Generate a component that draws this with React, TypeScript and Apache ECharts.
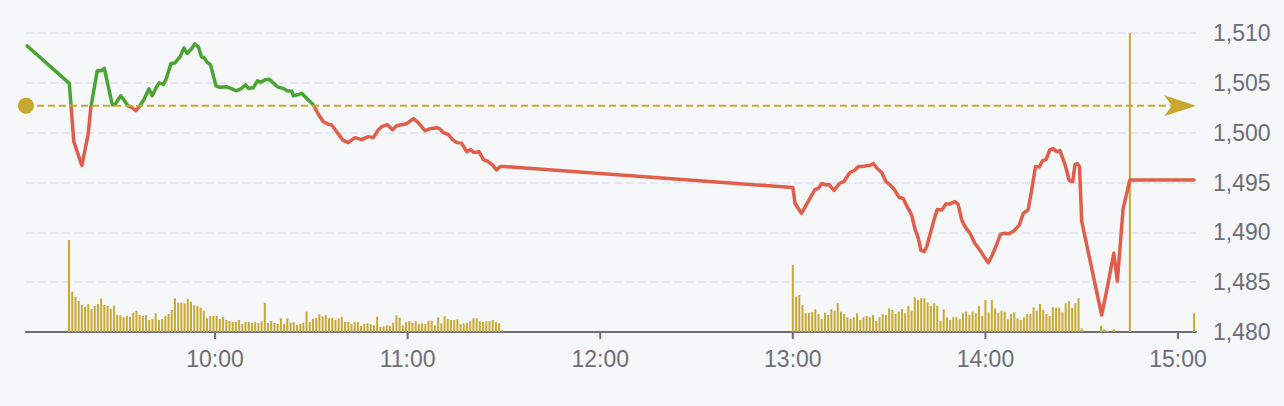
import React, { useEffect, useRef } from 'react';
import * as echarts from 'echarts';

// All times are minutes after 9:00
const DAY_START = 540; // 9:00 in minutes since midnight
const AXIS_MIN = 541.1;
const AXIS_MAX = 905.6;
const REF_PRICE = 1502.7;
const MARKER_MINUTE = 345; // 14:45

const hourTicks = [600, 660, 720, 780, 840, 900];
const hourLabels = ['10:00', '11:00', '12:00', '13:00', '14:00', '15:00'];
const priceTicks = [1480, 1485, 1490, 1495, 1500, 1505, 1510];

const priceMinutes = [
  1.5, 14.6, 16.0, 18.5, 20.5, 21.3, 23.3, 24.5, 25.5, 28.0,
  28.8, 30.6, 31.6, 32.8, 34.0, 35.3, 36.6, 37.9, 39.4, 40.4,
  41.8, 42.6, 43.9, 44.7, 46.3, 47.5, 49.1, 50.3, 51.3, 52.6,
  53.7, 54.8, 55.8, 56.5, 57.6, 58.6, 59.4, 60.3, 61.5, 63.6,
  64.9, 66.7, 68.3, 69.5, 70.4, 71.9, 73.2, 74.3, 75.6, 76.9,
  78.1, 79.4, 81.1, 82.5, 83.9, 84.4, 85.7, 87.0, 88.5, 90.6,
  92.2, 93.7, 95.3, 96.3, 97.9, 99.8, 101.5, 103.6, 105.7, 107.7,
  109.3, 110.9, 111.9, 113.7, 115.3, 116.6, 118.1, 119.7, 121.8, 123.3,
  125.4, 127.0, 129.0, 130.1, 131.1, 132.7, 134.0, 135.3, 136.8, 138.4,
  139.6, 140.7, 142.2, 143.6, 145.1, 146.5, 147.7, 148.8, 150.0,
  240.0, 240.7, 242.7, 244.8, 246.9, 247.9, 249.0, 250.5, 251.3, 252.8,
  254.5, 255.9, 257.8, 259.4, 260.4, 262.0, 263.0, 264.0, 265.1, 266.3,
  267.7, 269.0, 270.3, 271.6, 273.1, 274.4, 275.5, 277.0, 278.0, 279.1,
  279.9, 280.9, 281.7, 283.0, 284.3, 285.0, 286.4, 287.7, 289.0, 290.5,
  291.5, 292.6, 293.6, 295.2, 296.7, 298.3, 299.5, 300.9, 302.1, 303.5,
  304.7, 306.1, 307.3, 308.7, 310.5, 311.8, 313.3, 314.4, 315.6, 316.8,
  317.8, 318.9, 320.1, 321.1, 322.2, 323.2, 324.8, 326.1, 327.2, 327.9,
  328.6, 329.3, 330.0, 336.2, 337.8, 340.0, 341.1, 342.9, 345.0, 365.0,
];

const prices = [
  1508.7, 1504.95, 1499.1, 1496.7, 1499.9, 1502.55, 1506.2, 1506.2, 1506.45, 1502.8,
  1502.8, 1503.7, 1503.3, 1502.7, 1502.55, 1502.2, 1502.7, 1503.35, 1504.4, 1503.7,
  1504.6, 1505.0, 1504.85, 1505.35, 1506.95, 1507.0, 1507.6, 1508.5, 1507.95, 1508.4,
  1508.9, 1508.6, 1507.6, 1507.55, 1507.05, 1506.8, 1505.8, 1504.7, 1504.55, 1504.6,
  1504.45, 1504.2, 1504.45, 1504.8, 1504.45, 1504.5, 1505.2, 1505.05, 1505.3, 1505.35,
  1505.0, 1504.6, 1504.45, 1504.2, 1504.15, 1503.7, 1503.8, 1503.95, 1503.45, 1502.8,
  1501.85, 1501.1, 1500.85, 1500.8, 1500.1, 1499.25, 1499.0, 1499.5, 1499.3, 1499.6,
  1499.5, 1500.3, 1500.6, 1500.8, 1500.3, 1500.7, 1500.8, 1500.9, 1501.4, 1501.0,
  1500.2, 1500.4, 1500.5, 1500.35, 1500.0, 1499.8, 1499.3, 1499.0, 1498.95, 1498.1,
  1498.3, 1498.0, 1498.1, 1497.3, 1497.1, 1496.75, 1496.25, 1496.6, 1496.6,
  1494.5, 1492.9, 1491.9, 1493.1, 1494.3, 1494.4, 1494.9, 1494.75, 1494.8, 1494.2,
  1494.9, 1495.1, 1496.0, 1496.25, 1496.6, 1496.6, 1496.7, 1496.7, 1496.9, 1496.4,
  1496.0, 1495.1, 1494.75, 1494.3, 1493.5, 1493.4, 1492.65, 1491.75, 1490.4, 1489.4,
  1488.2, 1488.05, 1488.55, 1490.1, 1491.6, 1492.3, 1492.25, 1492.85, 1492.85, 1493.1,
  1492.8, 1491.25, 1490.6, 1489.9, 1488.9, 1488.2, 1487.6, 1486.95, 1487.7, 1488.8,
  1489.8, 1489.9, 1489.85, 1490.1, 1490.7, 1491.9, 1492.25, 1494.25, 1496.6, 1496.55,
  1497.2, 1497.3, 1498.3, 1498.4, 1498.1, 1498.2, 1496.8, 1495.2, 1495.1, 1496.8,
  1496.9, 1496.6, 1491.1, 1481.7, 1484.2, 1487.9, 1485.1, 1492.4, 1495.25, 1495.25,
];

// per-minute volume (relative units)
const morningVolumeStart = 14.5;
const morningVolumes = [
  92, 40.3, 35.3, 31, 27, 25.3, 28, 23, 26, 28,
  33.7, 27, 26, 23, 26.3, 17.3, 16.7, 14.7, 16, 15.3,
  19.3, 21.3, 17, 16, 17, 12, 13, 18.7, 12, 13,
  16, 18, 22, 33.7, 29.3, 29.3, 28.7, 33, 30.3, 26.7,
  26, 24.3, 21.3, 13.7, 16, 16, 16, 13, 15.3, 12,
  11, 10, 10, 12, 8, 10, 10, 9, 9.7, 9,
  10.7, 29.3, 9, 11, 9, 8, 13.7, 8, 13.7, 9.3,
  9.7, 7, 8, 9.3, 20.3, 10, 13, 14, 17.7, 15.7,
  17, 13.7, 14, 12, 13.7, 15.3, 10, 10, 7.7, 10,
  10, 6, 8, 8.7, 7.7, 6.7, 15.3, 5.3, 5.7, 6.7,
  6, 9.3, 16.7, 14.3, 6.7, 10, 10.7, 9, 10.7, 8,
  8.7, 8, 11.3, 11.3, 6.7, 14.7, 8.7, 15.7, 13, 12,
  12, 12.7, 7.7, 8.7, 9.3, 10.7, 13.7, 13.7, 10.7, 10,
  10.7, 10.7, 12, 10, 8.7, 2,
];
const afternoonVolumeStart = 240;
const afternoonVolumes = [
  67, 35.3, 37, 27, 18.7, 19.3, 19.7, 22.7, 18, 13,
  19.3, 17, 22.7, 21.3, 28.7, 20.3, 18, 14.7, 13, 14.7,
  18.7, 12, 14.7, 16, 14.7, 17, 11, 14.7, 17.7, 17,
  23.7, 22, 18, 20.3, 23, 18.7, 26, 21.3, 34.7, 32,
  33.7, 33.7, 29.7, 26, 28.7, 26, 11, 22.7, 14.7, 12,
  14.7, 14.7, 12.7, 18.7, 20.3, 17, 20.3, 18.7, 26, 16,
  32, 19.7, 32, 23.7, 19.3, 21, 20.3, 12.7, 18, 19.7,
  13.7, 12, 14.7, 18, 18, 24.7, 21.3, 28, 22, 18,
  16, 24.7, 24.3, 24.3, 19.7, 28.7, 31, 24.3, 28.7, 33.7,
  3.7,
];
const lateVolumeMinutes = [336, 337, 338, 340, 365];
const lateVolumes = [6.3, 2.7, 1, 2.7, 18.7];

const GREEN = '#4aa432';
const RED = '#e05e4a';
const GOLD = '#c9a832';
const TEXT = '#6e6e78';
const AXIS = '#6e6e77';
const BG = '#f6f7f9';
const FONT = '"Liberation Sans", Arial, sans-serif';
const CHART_W = 1284;
const CHART_H = 406;

function buildOption() {
  const priceData = priceMinutes.map((m, i) => [DAY_START + m, prices[i]]);
  const volumeData: number[][] = [];
  morningVolumes.forEach((v, i) => volumeData.push([DAY_START + morningVolumeStart + i, v]));
  afternoonVolumes.forEach((v, i) => volumeData.push([DAY_START + afternoonVolumeStart + i, v]));
  lateVolumes.forEach((v, i) => volumeData.push([DAY_START + lateVolumeMinutes[i], v]));

  return {
    animation: false,
    backgroundColor: BG,
    grid: { left: 26, right: 88, top: 33, bottom: 74 },
    xAxis: {
      type: 'value',
      min: AXIS_MIN,
      max: AXIS_MAX,
      axisLine: { lineStyle: { color: AXIS, width: 2 } },
      axisTick: { show: false },
      axisLabel: { show: false },
      splitLine: { show: false },
    },
    yAxis: [
      {
        type: 'value',
        position: 'right',
        min: priceTicks[0],
        max: priceTicks[priceTicks.length - 1],
        interval: 5,
        axisLine: { show: false },
        axisTick: { show: false },
        axisLabel: { color: TEXT, fontSize: 23, fontFamily: FONT, margin: 17 },
        splitLine: { lineStyle: { color: '#e3e6f0', type: [8, 4], width: 2 } },
      },
      {
        type: 'value',
        min: 0,
        max: 299,
        axisLine: { show: false },
        axisTick: { show: false },
        axisLabel: { show: false },
        splitLine: { show: false },
      },
    ],
    series: [
      {
        id: 'price',
        type: 'line',
        data: priceData,
        symbol: 'none',
        showSymbol: false,
        lineStyle: { width: 3.5, color: RED, join: 'round', cap: 'round' },
        itemStyle: { color: RED },
        z: 4,
      },
      {
        type: 'bar',
        yAxisIndex: 1,
        data: volumeData,
        barWidth: 2,
        itemStyle: { color: GOLD },
        z: 2,
      },
      {
        // reference price line with dot and arrow
        type: 'custom',
        silent: true,
        clip: false,
        z: 5,
        data: [[AXIS_MIN, REF_PRICE, AXIS_MAX]],
        renderItem: (params: any, api: any) => {
          const a = api.coord([api.value(0), api.value(1)]);
          const b = api.coord([api.value(2), api.value(1)]);
          const y = a[1];
          const tip = b[0];
          return {
            type: 'group',
            children: [
              {
                type: 'line',
                shape: { x1: a[0], y1: y, x2: tip - 22, y2: y },
                style: { stroke: GOLD, lineWidth: 2, lineDash: [7, 4] },
              },
              { type: 'circle', shape: { cx: a[0], cy: y, r: 8 }, style: { fill: GOLD } },
              {
                type: 'polygon',
                shape: { points: [[tip, y], [tip - 32, y - 10.5], [tip - 24, y], [tip - 32, y + 10.5]] },
                style: { fill: GOLD },
              },
            ],
          };
        },
      },
      {
        // vertical time marker
        type: 'custom',
        silent: true,
        clip: false,
        z: 3,
        data: [[DAY_START + MARKER_MINUTE, priceTicks[0], priceTicks[priceTicks.length - 1]]],
        renderItem: (params: any, api: any) => {
          const a = api.coord([api.value(0), api.value(1)]);
          const b = api.coord([api.value(0), api.value(2)]);
          return {
            type: 'line',
            shape: { x1: a[0], y1: a[1], x2: b[0], y2: b[1] },
            style: { stroke: GOLD, lineWidth: 2 },
          };
        },
      },
      {
        // hour ticks and labels
        type: 'custom',
        silent: true,
        clip: false,
        z: 6,
        data: hourTicks.map((h) => [h, priceTicks[0]]),
        renderItem: (params: any, api: any) => {
          const p = api.coord([api.value(0), api.value(1)]);
          return {
            type: 'group',
            children: [
              {
                type: 'line',
                shape: { x1: p[0], y1: p[1], x2: p[0], y2: p[1] + 7 },
                style: { stroke: AXIS, lineWidth: 2 },
              },
              {
                type: 'text',
                x: p[0],
                y: p[1] + 15,
                style: {
                  text: hourLabels[params.dataIndex],
                  fill: TEXT,
                  font: `23px ${FONT}`,
                  align: 'center',
                  verticalAlign: 'top',
                },
              },
            ],
          };
        },
      },
    ],
  };
}

export default function App() {
  const ref = useRef<HTMLDivElement>(null);
  useEffect(() => {
    if (!ref.current) return;
    const chart = echarts.init(ref.current, undefined, { renderer: 'svg' });
    chart.setOption(buildOption() as any);
    // colour the price line green above the reference price, red below it
    const refY = chart.convertToPixel({ yAxisIndex: 0 }, REF_PRICE) as number;
    if (typeof refY === 'number' && isFinite(refY)) {
      const f = Math.min(1, Math.max(0, refY / CHART_H));
      const gradient = new echarts.graphic.LinearGradient(
        0, 0, 0, CHART_H,
        [
          { offset: 0, color: GREEN },
          { offset: f, color: GREEN },
          { offset: f, color: RED },
          { offset: 1, color: RED },
        ],
        true
      );
      chart.setOption({ series: [{ id: 'price', lineStyle: { color: gradient } }] });
    }
    return () => chart.dispose();
  }, []);
  return (
    <div
      ref={ref}
      style={{ position: 'fixed', left: 0, top: 0, width: CHART_W, height: CHART_H, background: BG }}
    />
  );
}
